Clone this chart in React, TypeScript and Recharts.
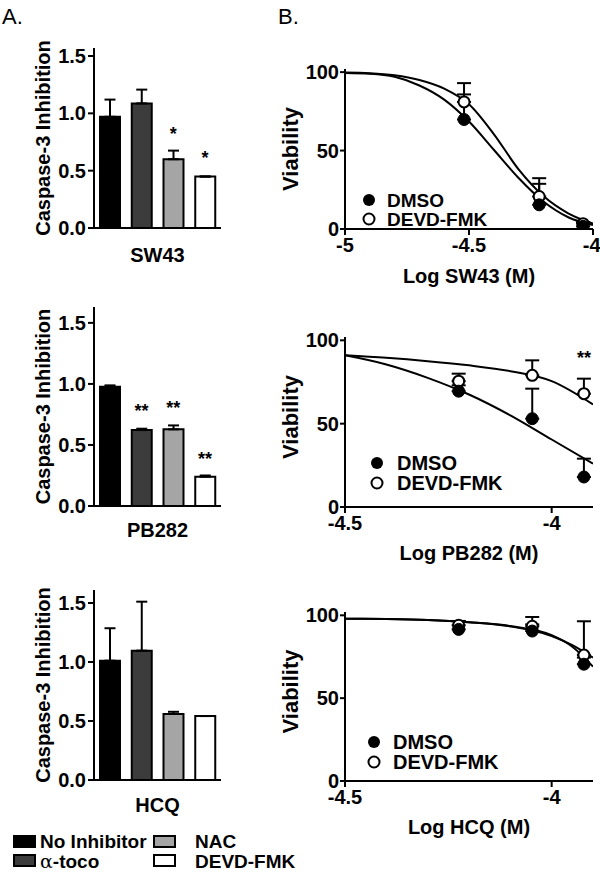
import React from 'react'
import { ComposedChart, Bar, Cell, ErrorBar, XAxis, YAxis, Scatter, Line } from 'recharts'

const FONT = '"Liberation Sans", Arial, Helvetica, sans-serif'
const INK = '#000000'

// A. caspase-3 inhibition, one bar per inhibitor
const treatments = ['No Inhibitor', 'α-toco', 'NAC', 'DEVD-FMK']
const barFills = ['#000000', '#3c3c3c', '#a5a5a5', '#ffffff']
const barTicks = [0, 0.5, 1, 1.5]

const sw43Casp = [0.97, 1.087, 0.6, 0.449]
const sw43CaspErr = [0.15, 0.12, 0.075, 0]
const sw43Sig = ['', '', '*', '*']
const sw43SigAt = [null, null, 0.855, 0.646]

const pb282Casp = [0.976, 0.622, 0.628, 0.24]
const pb282CaspErr = [0.012, 0.011, 0.032, 0.01]
const pb282Sig = ['', '**', '**', '**']
const pb282SigAt = [null, 0.81, 0.835, 0.417]

const hcqCasp = [1.011, 1.096, 0.559, 0.542]
const hcqCaspErr = [0.275, 0.415, 0.019, 0]
const hcqSig = ['', '', '', '']
const hcqSigAt = [null, null, null, null]

// B. viability vs log dose
const viaTicks = [0, 50, 100]

const sw43Dose = [-4.52, -4.217, -4.04]
const sw43Dmso = [69.8, 15.4, 1.7]
const sw43DmsoErr = [16, 13.4, 2.5]
const sw43Devd = [81, 20.7, 3.4]
const sw43DevdErr = [12, 11.7, 1]
const sw43FitX = [-5, -4.9, -4.8, -4.7, -4.6, -4.5, -4.4, -4.3, -4.2, -4.1, -4.0]
const sw43DmsoFit = [99.5, 99, 97, 91.5, 82.5, 68.5, 50.5, 32.5, 17.5, 7.5, 2.5]
const sw43DevdFit = [99.7, 99.3, 98, 95, 89.5, 79.5, 60.5, 38, 21, 10, 3.5]

const pb282Dose = [-4.225, -4.047, -3.922]
const pb282Dmso = [69.5, 53, 18]
const pb282DmsoErr = [3.5, 18, 11]
const pb282Devd = [75.5, 79, 68]
const pb282DevdErr = [4.5, 9, 9]
const pb282FitX = [-4.5, -4.4, -4.3, -4.2, -4.1, -4.0, -3.9]
const pb282DmsoFit = [91, 85.5, 77.5, 67.5, 55, 40.5, 26]
const pb282DevdFit = [91, 89.5, 87.5, 85, 81.5, 75.5, 61.5]
const pb282Star = [{ x: -3.922, y: 92, sig: '**' }]

const hcqDose = [-4.225, -4.047, -3.922]
const hcqDmso = [91.5, 90.5, 70.5]
const hcqDmsoErr = [5, 4, 4]
const hcqDevd = [94, 93.4, 76]
const hcqDevdErr = [2.6, 5.6, 20.4]
const hcqFitX = [-4.5, -4.4, -4.3, -4.2, -4.1, -4.0, -3.95, -3.9]
const hcqDmsoFit = [98, 97.8, 97.2, 95.8, 93.5, 88, 81, 69]
const hcqDevdFit = [98, 97.8, 97.2, 95.8, 93.3, 87.5, 82, 74.5]

const textStyle = { fontFamily: FONT, fontWeight: 700, fill: INK }
const tickStyle = { fill: INK, fontSize: 20, fontWeight: 700, fontFamily: FONT }
const axisLine = { stroke: INK, strokeWidth: 2 }

const yTitle = (text: string, size: number, dx: number, dy = 0) => (props: any) => {
  const vb = props.viewBox || {}
  const cx = vb.x + vb.width / 2 + dx
  const cy = vb.y + vb.height / 2 + dy
  return (
    <text
      x={cx}
      y={cy}
      transform={`rotate(-90 ${cx} ${cy})`}
      textAnchor="middle"
      dominantBaseline="central"
      fontSize={size}
      style={textStyle}
    >
      {text}
    </text>
  )
}

const xTitle = (text: string, gap: number) => (props: any) => {
  const vb = props.viewBox || {}
  return (
    <text
      x={vb.x + vb.width / 2}
      y={vb.y + gap}
      textAnchor="middle"
      dominantBaseline="central"
      fontSize={20}
      style={textStyle}
    >
      {text}
    </text>
  )
}

const starShape = (props: any) => {
  const sig = props.payload && props.payload.sig
  if (!sig || props.cy == null || isNaN(props.cy)) return <g />
  return (
    <text x={props.cx} y={props.cy} dy="0.55em" textAnchor="middle" fontSize={18} style={textStyle}>
      {sig}
    </text>
  )
}

const filledDot = (props: any) => (
  <circle cx={props.cx} cy={props.cy} r={6} fill={INK} stroke={INK} strokeWidth={1} />
)
const openDot = (props: any) => (
  <circle cx={props.cx} cy={props.cy} r={5.5} fill="#ffffff" stroke={INK} strokeWidth={2} />
)

interface BarPanelProps {
  top: number
  height: number
  marginTop: number
  axisHeight: number
  yMax: number
  drug: string
  labelGap: number
  values: number[]
  errs: number[]
  sig: string[]
  sigAt: (number | null)[]
}

function BarPanel({ top, height, marginTop, axisHeight, yMax, drug, labelGap, values, errs, sig, sigAt }: BarPanelProps) {
  const rows = treatments.map((t, i) => ({
    name: t,
    value: values[i],
    err: [0, errs[i]],
    star: sigAt[i],
    sig: sig[i],
  }))
  return (
    <div style={{ position: 'absolute', left: 0, top }}>
      <ComposedChart width={230} height={height} data={rows} margin={{ top: marginTop, right: 9, bottom: 0, left: 0 }}>
        <XAxis
          dataKey="name"
          height={axisHeight}
          tick={false}
          tickLine={false}
          axisLine={axisLine}
          label={xTitle(drug, labelGap)}
        />
        <YAxis
          width={94}
          domain={[0, yMax]}
          ticks={barTicks}
          allowDataOverflow
          tickFormatter={(v: number) => v.toFixed(1)}
          tickSize={6}
          tickMargin={2}
          axisLine={axisLine}
          tickLine={axisLine}
          tick={tickStyle}
          label={yTitle('Caspase-3 Inhibition', 20, -4)}
        />
        <Bar dataKey="value" barSize={20} stroke={INK} strokeWidth={2} isAnimationActive={false}>
          {rows.map((r, i) => (
            <Cell key={r.name} fill={barFills[i]} />
          ))}
          <ErrorBar dataKey="err" direction="y" width={5.5} stroke={INK} strokeWidth={2} />
        </Bar>
        <Scatter dataKey="star" shape={starShape} isAnimationActive={false} />
      </ComposedChart>
    </div>
  )
}

interface DosePanelProps {
  top: number
  height: number
  marginTop: number
  axisHeight: number
  domain: [number, number]
  xTicks: number[]
  title: string
  titleGap: number
  viaDy: number
  dose: number[]
  dmso: number[]
  dmsoErr: number[]
  devd: number[]
  devdErr: number[]
  fitX: number[]
  dmsoFit: number[]
  devdFit: number[]
  stars?: { x: number; y: number; sig: string }[]
}

function DosePanel(p: DosePanelProps) {
  const dmsoPts = p.dose.map((x, i) => ({ x, y: p.dmso[i], err: [0, p.dmsoErr[i]] }))
  const devdPts = p.dose.map((x, i) => ({ x, y: p.devd[i], err: [0, p.devdErr[i]] }))
  const dmsoCurve = p.fitX.map((x, i) => ({ x, y: p.dmsoFit[i] }))
  const devdCurve = p.fitX.map((x, i) => ({ x, y: p.devdFit[i] }))
  return (
    <div style={{ position: 'absolute', left: 200, top: p.top }}>
      <ComposedChart width={400} height={p.height} margin={{ top: p.marginTop, right: 7, bottom: 0, left: 0 }}>
        <XAxis
          type="number"
          dataKey="x"
          domain={p.domain}
          ticks={p.xTicks}
          allowDataOverflow
          height={p.axisHeight}
          tickSize={6}
          tickMargin={3}
          axisLine={axisLine}
          tickLine={axisLine}
          tick={tickStyle}
          label={xTitle(p.title, p.titleGap)}
        />
        <YAxis
          type="number"
          width={145}
          domain={[0, 102]}
          ticks={viaTicks}
          allowDataOverflow
          tickSize={5}
          tickMargin={1}
          axisLine={axisLine}
          tickLine={axisLine}
          tick={tickStyle}
          label={yTitle('Viability', 22, 18, p.viaDy)}
        />
        <Line data={dmsoCurve} dataKey="y" type="monotone" stroke={INK} strokeWidth={2} dot={false} isAnimationActive={false} />
        <Line data={devdCurve} dataKey="y" type="monotone" stroke={INK} strokeWidth={2} dot={false} isAnimationActive={false} />
        <Scatter data={devdPts} dataKey="y" shape={openDot} isAnimationActive={false}>
          <ErrorBar dataKey="err" direction="y" width={7} stroke={INK} strokeWidth={2} />
        </Scatter>
        <Scatter data={dmsoPts} dataKey="y" shape={filledDot} isAnimationActive={false}>
          <ErrorBar dataKey="err" direction="y" width={7} stroke={INK} strokeWidth={2} />
        </Scatter>
        {p.stars && <Scatter data={p.stars} dataKey="y" shape={starShape} isAnimationActive={false} />}
      </ComposedChart>
    </div>
  )
}

function DoseKey({ x, y, gap, textX, size }: { x: number; y: number; gap: number; textX: number; size: number }) {
  return (
    <g>
      <circle cx={x} cy={y} r={6} fill={INK} />
      <text x={textX} y={y} dominantBaseline="central" fontSize={size} style={textStyle}>DMSO</text>
      <circle cx={x} cy={y + gap} r={5.5} fill="#ffffff" stroke={INK} strokeWidth={2} />
      <text x={textX} y={y + gap} dominantBaseline="central" fontSize={size} style={textStyle}>DEVD-FMK</text>
    </g>
  )
}

export default function App() {
  return (
    <div style={{ position: 'absolute', left: 0, top: 0, width: 600, height: 873, background: '#ffffff' }}>
      <svg width={600} height={873} style={{ position: 'absolute', left: 0, top: 0 }}>
        <text x={2} y={16} dominantBaseline="central" fontSize={22} fontFamily={FONT} fill={INK}>A.</text>
        <text x={278} y={16} dominantBaseline="central" fontSize={22} fontFamily={FONT} fill={INK}>B.</text>

        <DoseKey x={369} y={200} gap={19} textX={387} size={19} />
        <DoseKey x={377} y={463} gap={20} textX={397} size={20} />
        <DoseKey x={374} y={742} gap={20} textX={393} size={20} />

        <rect x={14} y={836} width={21} height={11} fill={barFills[0]} stroke={INK} strokeWidth={2} />
        <text x={40} y={841} dominantBaseline="central" fontSize={19} style={textStyle}>{treatments[0]}</text>
        <rect x={14} y={855} width={21} height={11} fill={barFills[1]} stroke={INK} strokeWidth={2} />
        <text x={40} y={861} dominantBaseline="central" fontSize={19} style={textStyle}>
          <tspan fontWeight={400} fontFamily='"DejaVu Serif", serif'>α</tspan>-toco
        </text>
        <rect x={154} y={836} width={21} height={11} fill={barFills[2]} stroke={INK} strokeWidth={2} />
        <text x={195} y={841} dominantBaseline="central" fontSize={19} style={textStyle}>{treatments[2]}</text>
        <rect x={154} y={855} width={21} height={11} fill={barFills[3]} stroke={INK} strokeWidth={2} />
        <text x={195} y={861} dominantBaseline="central" fontSize={19} style={textStyle}>{treatments[3]}</text>
      </svg>

      <BarPanel top={30} height={260} marginTop={18} axisHeight={62} yMax={1.57} drug="SW43" labelGap={27}
        values={sw43Casp} errs={sw43CaspErr} sig={sw43Sig} sigAt={sw43SigAt} />
      <BarPanel top={290} height={270} marginTop={17} axisHeight={54} yMax={1.63} drug="PB282" labelGap={24}
        values={pb282Casp} errs={pb282CaspErr} sig={pb282Sig} sigAt={pb282SigAt} />
      <BarPanel top={575} height={245} marginTop={15} axisHeight={40} yMax={1.61} drug="HCQ" labelGap={25}
        values={hcqCasp} errs={hcqCaspErr} sig={hcqSig} sigAt={hcqSigAt} />

      <DosePanel top={40} height={260} marginTop={29} axisHeight={71} domain={[-5, -4]} xTicks={[-5, -4.5, -4]}
        title="Log SW43 (M)" titleGap={47} viaDy={0}
        dose={sw43Dose} dmso={sw43Dmso} dmsoErr={sw43DmsoErr} devd={sw43Devd} devdErr={sw43DevdErr}
        fitX={sw43FitX} dmsoFit={sw43DmsoFit} devdFit={sw43DevdFit} />
      <DosePanel top={300} height={270} marginTop={37} axisHeight={63} domain={[-4.5, -3.9]} xTicks={[-4.5, -4]}
        title="Log PB282 (M)" titleGap={46} viaDy={-5}
        dose={pb282Dose} dmso={pb282Dmso} dmsoErr={pb282DmsoErr} devd={pb282Devd} devdErr={pb282DevdErr}
        fitX={pb282FitX} dmsoFit={pb282DmsoFit} devdFit={pb282DevdFit} stars={pb282Star} />
      <DosePanel top={580} height={270} marginTop={32} axisHeight={69} domain={[-4.5, -3.9]} xTicks={[-4.5, -4]}
        title="Log HCQ (M)" titleGap={46} viaDy={-5}
        dose={hcqDose} dmso={hcqDmso} dmsoErr={hcqDmsoErr} devd={hcqDevd} devdErr={hcqDevdErr}
        fitX={hcqFitX} dmsoFit={hcqDmsoFit} devdFit={hcqDevdFit} />
    </div>
  )
}
